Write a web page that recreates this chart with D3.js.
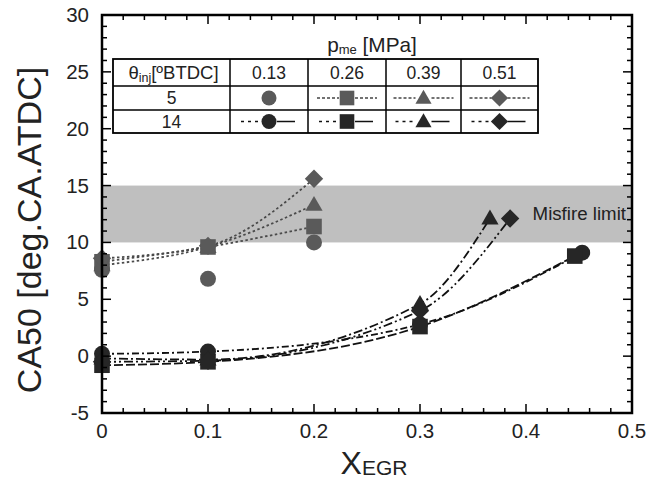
<!DOCTYPE html>
<html><head><meta charset="utf-8">
<script src="https://cdn.jsdelivr.net/npm/d3@7"></script>
<style>body{margin:0;background:#fff}svg{font-family:"Liberation Sans",Arial,sans-serif}</style>
</head><body><svg id="c" width="652" height="481"></svg>
<script>
const xTicks = [0, 0.1, 0.2, 0.3, 0.4, 0.5];
const yTicks = [-5, 0, 5, 10, 15, 20, 25, 30];
const pmeLabels = ["0.13", "0.26", "0.39", "0.51"];
const injLabels = ["5", "14"];
const shapes = ["circle", "square", "triangle", "diamond"];
const misfireBand = [10, 15];

// theta_inj = 5 deg BTDC
const x5 = [0, 0.1, 0.2];
const c5_013 = [7.6, 6.8, 10.0];
const c5_026 = [8.3, 9.6, 11.4];
const c5_039 = [8.0, 9.6, 13.3];
const c5_051 = [8.6, 9.7, 15.6];
// theta_inj = 14 deg BTDC
const x14_013 = [0, 0.1, 0.3, 0.453];
const c14_013 = [0.2, 0.4, 2.8, 9.1];
const x14_026 = [0, 0.1, 0.3, 0.446];
const c14_026 = [-0.8, -0.5, 2.6, 8.8];
const x14_039 = [0, 0.1, 0.3, 0.366];
const c14_039 = [-0.2, -0.3, 4.6, 12.1];
const x14_051 = [0, 0.1, 0.3, 0.385];
const c14_051 = [-0.5, -0.4, 4.0, 12.1];

const grey = "#5a5a5a", dark = "#262626";
const series = [
  {x: x5, y: c5_013, shape: 0, color: grey, line: false},
  {x: x5, y: c5_026, shape: 1, color: grey, line: true, dash: "2.5,2.5"},
  {x: x5, y: c5_039, shape: 2, color: grey, line: true, dash: "2.5,2.5"},
  {x: x5, y: c5_051, shape: 3, color: grey, line: true, dash: "2.5,2.5"},
  {x: x14_013, y: c14_013, shape: 0, color: dark, line: true, dash: "7,3,2,3"},
  {x: x14_026, y: c14_026, shape: 1, color: dark, line: true, dash: "9,3"},
  {x: x14_039, y: c14_039, shape: 2, color: dark, line: true, dash: "9,3,2,3"},
  {x: x14_051, y: c14_051, shape: 3, color: dark, line: true, dash: "9,3,2,3,2,3"}
];

const svg = d3.select("#c");
const L = 102, R = 632, T = 15, B = 413;
const x = d3.scaleLinear().domain([0, 0.5]).range([L, R]);
const y = d3.scaleLinear().domain([-5, 30]).range([B, T]);

function sym(i, s) {
  const types = [d3.symbolCircle, d3.symbolSquare, d3.symbolTriangle, d3.symbolSquare];
  const sizes = [s * s * Math.PI / 4, s * s * 0.95, s * s * 0.5, s * s * 0.66];
  return d3.symbol().type(types[i]).size(sizes[i])();
}
function drawMarker(g, i, cx, cy, color, s) {
  g.append("path").attr("d", sym(i, s)).attr("fill", color)
    .attr("transform", `translate(${cx},${cy})` + (i === 3 ? " rotate(45)" : "") + (i === 2 ? " translate(0,1)" : ""));
}

// misfire band
svg.append("rect").attr("x", L).attr("width", R - L)
  .attr("y", y(misfireBand[1])).attr("height", y(misfireBand[0]) - y(misfireBand[1]))
  .attr("fill", "#bfbfbf");
svg.append("text").attr("x", 626).attr("y", y(12.5) + 6).attr("text-anchor", "end")
  .attr("font-size", 18.7).attr("fill", "#222").text("Misfire limit");

// lines
const line = d3.line().curve(d3.curveMonotoneX);
series.filter(s => s.line).forEach(s => {
  const pts = s.x.map((v, i) => [x(v), y(s.y[i])]);
  svg.append("path").attr("d", line(pts)).attr("fill", "none")
    .attr("stroke", s.color === grey ? "#4a4a4a" : "#111").attr("stroke-width", 1.8)
    .attr("stroke-dasharray", s.dash);
});
// markers
const mg = svg.append("g");
series.forEach(s => s.x.forEach((v, i) => drawMarker(mg, s.shape, x(v), y(s.y[i]), s.color, 16)));

// axes
const ax = svg.append("g");
const minorX = d3.range(0, 0.5001, 0.02);
const minorY = d3.range(-5, 30.001, 1);
minorX.forEach(v => {
  const major = Math.abs(v * 10 - Math.round(v * 10)) < 1e-6;
  const len = major ? 9 : 5;
  ax.append("line").attr("x1", x(v)).attr("x2", x(v)).attr("y1", B).attr("y2", B - len).attr("stroke", "#000").attr("stroke-width", 1.5);
  ax.append("line").attr("x1", x(v)).attr("x2", x(v)).attr("y1", T).attr("y2", T + len).attr("stroke", "#000").attr("stroke-width", 1.5);
});
minorY.forEach(v => {
  const major = Math.round(v) % 5 === 0;
  const len = major ? 9 : 5;
  ax.append("line").attr("x1", L).attr("x2", L + len).attr("y1", y(v)).attr("y2", y(v)).attr("stroke", "#000").attr("stroke-width", 1.5);
  ax.append("line").attr("x1", R).attr("x2", R - len).attr("y1", y(v)).attr("y2", y(v)).attr("stroke", "#000").attr("stroke-width", 1.5);
});
ax.append("rect").attr("x", L).attr("y", T).attr("width", R - L).attr("height", B - T)
  .attr("fill", "none").attr("stroke", "#000").attr("stroke-width", 2.5);
xTicks.forEach(v => ax.append("text").attr("x", x(v)).attr("y", B + 25).attr("text-anchor", "middle")
  .attr("font-size", 20.5).attr("fill", "#222").text(v === 0 ? "0" : v));
yTicks.forEach(v => ax.append("text").attr("x", 89).attr("y", y(v) + 7).attr("text-anchor", "end")
  .attr("font-size", 20.5).attr("fill", "#222").text(v));

// axis titles
const xt = svg.append("text").attr("x", 374).attr("y", 474).attr("text-anchor", "middle").attr("font-size", 32).attr("fill", "#222");
xt.append("tspan").text("X");
xt.append("tspan").attr("font-size", 21).attr("dy", 1).text("EGR");
svg.append("text").attr("transform", `translate(41,230) rotate(-90)`).attr("text-anchor", "middle")
  .attr("font-size", 34).attr("fill", "#222").text("CA50 [deg.CA.ATDC]");

// legend table
const tg = svg.append("g");
const colX = [113, 230, 308, 386, 461, 538];
const rowY = [59, 86, 110, 133];
const pt = tg.append("text").attr("x", 372).attr("y", 52).attr("text-anchor", "middle").attr("font-size", 20.8).attr("fill", "#222");
pt.append("tspan").text("p");
pt.append("tspan").attr("font-size", 13).attr("dy", 2).text("me");
pt.append("tspan").attr("dy", -2).text(" [MPa]");
tg.append("rect").attr("x", colX[0]).attr("y", rowY[0]).attr("width", colX[5] - colX[0]).attr("height", rowY[3] - rowY[0])
  .attr("fill", "#fff").attr("stroke", "#000").attr("stroke-width", 1.8);
colX.slice(1, 5).forEach(cx => tg.append("line").attr("x1", cx).attr("x2", cx).attr("y1", rowY[0]).attr("y2", rowY[3]).attr("stroke", "#000").attr("stroke-width", 1.5));
rowY.slice(1, 3).forEach(ry => tg.append("line").attr("x1", colX[0]).attr("x2", colX[5]).attr("y1", ry).attr("y2", ry).attr("stroke", "#000").attr("stroke-width", 1.5));
const th = tg.append("text").attr("x", (colX[0] + colX[1]) / 2 + 2).attr("y", (rowY[0] + rowY[1]) / 2 + 6).attr("text-anchor", "middle").attr("font-size", 18.5).attr("fill", "#222");
th.append("tspan").text("θ");
th.append("tspan").attr("font-size", 12.5).attr("dy", 3).text("inj");
th.append("tspan").attr("dy", -3).text("[ºBTDC]");
pmeLabels.forEach((p, i) => tg.append("text").attr("x", (colX[i + 1] + colX[i + 2]) / 2).attr("y", (rowY[0] + rowY[1]) / 2 + 6)
  .attr("text-anchor", "middle").attr("font-size", 17.5).attr("fill", "#222").text(p));
injLabels.forEach((t, r) => tg.append("text").attr("x", (colX[0] + colX[1]) / 2).attr("y", (rowY[r + 1] + rowY[r + 2]) / 2 + 6)
  .attr("text-anchor", "middle").attr("font-size", 17.5).attr("fill", "#222").text(t));
series.forEach((s, k) => {
  const r = k < 4 ? 0 : 1, c = s.shape;
  const cx = (colX[c + 1] + colX[c + 2]) / 2, cy = (rowY[r + 1] + rowY[r + 2]) / 2;
  const col = s.color;
  if (s.line) {
    if (r === 0) {
      tg.append("line").attr("x1", cx - 30).attr("x2", cx - 8).attr("y1", cy).attr("y2", cy).attr("stroke", "#444").attr("stroke-width", 1.3).attr("stroke-dasharray", "3,2");
      tg.append("line").attr("x1", cx + 8).attr("x2", cx + 30).attr("y1", cy).attr("y2", cy).attr("stroke", "#444").attr("stroke-width", 1.3).attr("stroke-dasharray", "3,2");
    } else {
      tg.append("line").attr("x1", cx - 28).attr("x2", cx - 8).attr("y1", cy).attr("y2", cy).attr("stroke", "#111").attr("stroke-width", 1.3).attr("stroke-dasharray", "3,4");
      tg.append("line").attr("x1", cx + 8).attr("x2", cx + 26).attr("y1", cy).attr("y2", cy).attr("stroke", "#111").attr("stroke-width", 1.5);
    }
  }
  drawMarker(tg, c, cx, cy, col, 15);
});
</script></body></html>
